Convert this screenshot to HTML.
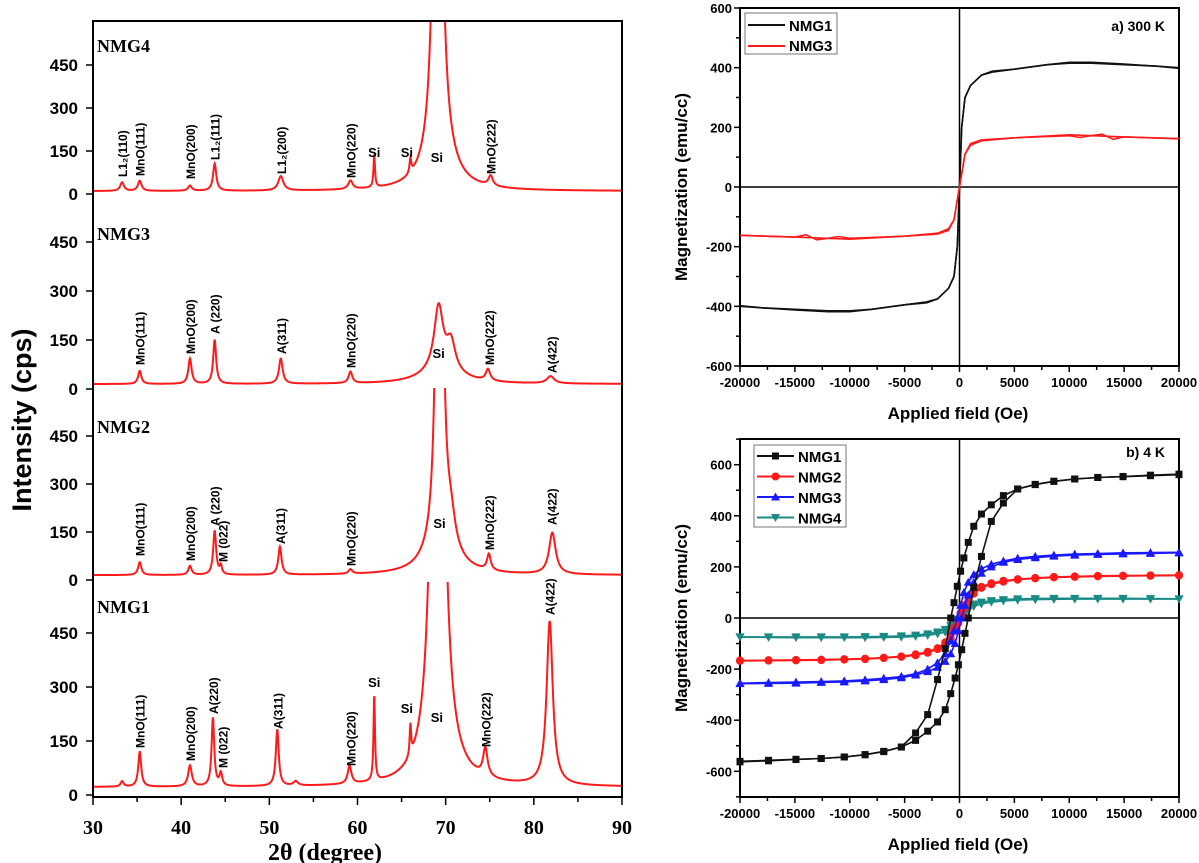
<!DOCTYPE html>
<html><head><meta charset="utf-8"><style>
html,body{margin:0;padding:0;background:#fff;}
svg{display:block;}
text{font-family:"Liberation Sans",Arial,sans-serif;}
.serif{font-family:"Liberation Serif","Times New Roman",serif;}
</style></head><body>
<svg id="fig" width="1199" height="863" viewBox="0 0 1199 863" xmlns="http://www.w3.org/2000/svg"></svg>
<script>
// ---------- XRD data (peak parameters) ----------
const xrdSamples = ["NMG4","NMG3","NMG2","NMG1"];
const xrdBase = [10, 15, 15, 22];
const nmg4Pos = [33.3,35.3,41.0,43.8,51.3,59.2,61.9,66.0,69.1,69.3,75.1];
const nmg4Amp = [30,35,18,95,50,30,115,50,2500,140,35];
const nmg4Wid = [0.25,0.25,0.25,0.22,0.35,0.3,0.1,0.12,0.4,1.6,0.3];
const nmg3Pos = [35.3,41.0,43.8,51.3,59.2,69.2,70.6,69.5,74.8,81.9];
const nmg3Amp = [40,78,135,77,35,190,85,45,35,22];
const nmg3Wid = [0.22,0.22,0.2,0.25,0.25,0.6,0.6,2.5,0.3,0.5];
const nmg2Pos = [35.3,41.0,43.8,44.5,51.2,59.2,69.3,70.6,69.5,74.9,82.1];
const nmg2Amp = [40,28,138,25,88,14,2500,80,90,50,130];
const nmg2Wid = [0.22,0.22,0.2,0.15,0.22,0.25,0.3,0.6,1.8,0.25,0.45];
const nmg1Pos = [33.3,35.3,41.0,43.6,44.5,50.9,53.0,59.1,61.9,66.0,69.1,69.3,74.5,81.8];
const nmg1Amp = [15,97,58,190,35,156,12,50,240,85,3000,100,78,455];
const nmg1Wid = [0.2,0.2,0.25,0.18,0.18,0.2,0.3,0.25,0.1,0.1,0.5,1.5,0.3,0.42];
const xrdTicks = [0,150,300,450];
const xrdXTicks = [30,40,50,60,70,80,90];

// ---------- Magnetic data: upper branch (lower branch = point reflection) ----------
const m300H1 = [20000,18000,15000,12000,10000,8000,5000,3000,2000,1000,500,200,0,-200,-500,-1000,-2000,-3000,-5000,-8000,-10000,-12000,-15000,-18000,-20000];
const m300M1 = [398,405,412,418,418,410,395,388,375,340,300,200,0,-200,-300,-340,-375,-385,-395,-410,-415,-415,-410,-405,-400];
const m300H3 = [20000,15000,10000,5000,2000,1000,500,0,-500,-1000,-2000,-5000,-10000,-11000,-12000,-13000,-14000,-15000,-20000];
const m300M3 = [162,168,175,165,158,145,110,0,-110,-140,-155,-165,-172,-166,-172,-177,-160,-168,-162];
const m4H = [20000,17400,14900,12600,10500,8600,6900,5300,4000,2900,2000,1300,800,400,100,-200,-500,-800,-1300,-2000,-2900,-4000,-5300,-6900,-8600,-10500,-12600,-14900,-17400,-20000];
const m4M1 = [561,557,553,550,544,535,522,505,479,443,407,359,296,235,183,124,60,0,-120,-241,-378,-450,-505,-523,-535,-544,-550,-554,-559,-563];
const m4M2 = [168,167,166,165,163,161,157,152,146,136,122,104,80,50,20,-10,-40,-65,-95,-118,-132,-142,-150,-155,-159,-161,-163,-164,-165,-166];
const m4M3 = [257,256,255,252,250,246,241,234,223,210,193,170,140,100,50,0,-50,-90,-140,-175,-200,-218,-229,-236,-242,-246,-249,-251,-253,-255];
const m4M4 = [75,76,77,77,77,77,76,75,72,68,62,55,42,25,10,-5,-18,-30,-45,-55,-62,-67,-70,-72,-73,-74,-74,-74,-74,-74];
const magXTicks = [-20000,-15000,-10000,-5000,0,5000,10000,15000,20000];
const magYTicksTop = [-600,-400,-200,0,200,400,600];
const magYTicksBot = [-600,-400,-200,0,200,400,600];

const NS="http://www.w3.org/2000/svg";
const svg=document.getElementById('fig');
function mk(tag,attrs,parent){const e=document.createElementNS(NS,tag);for(const k in attrs)e.setAttribute(k,attrs[k]);(parent||svg).appendChild(e);return e;}
function txt(s,attrs,parent){const e=mk('text',attrs,parent);e.textContent=s;return e;}

// ================= XRD PANEL =================
const XL=93, XR=622, XT=21, XB=797;
const xX = d => XL + (d-30)*(XR-XL)/60;
const zeroY=[194,389,580,795];
const pxPer=[43/150,49/150,48/150,54/150];
const clipTop=[21,21,388,582];
const posArr=[nmg4Pos,nmg3Pos,nmg2Pos,nmg1Pos];
const ampArr=[nmg4Amp,nmg3Amp,nmg2Amp,nmg1Amp];
const widArr=[nmg4Wid,nmg3Wid,nmg2Wid,nmg1Wid];
const defs=mk('defs',{});
for(let i=0;i<4;i++){
  const cp=mk('clipPath',{id:'clip'+i},defs);
  mk('rect',{x:XL,y:clipTop[i],width:XR-XL,height:XB-clipTop[i]},cp);
}
for(let i=0;i<4;i++){
  const y=v=>zeroY[i]-v*pxPer[i];
  let d='';
  for(let t=30;t<=90.0001;t+=0.04){
    let v=xrdBase[i];
    for(let k=0;k<posArr[i].length;k++){const g=widArr[i][k];const dd=t-posArr[i][k];v+=ampArr[i][k]*g*g/(dd*dd+g*g);}
    d+=(d?'L':'M')+xX(t).toFixed(2)+','+y(v).toFixed(2);
  }
  const p=mk('path',{d:d,fill:'none',stroke:'#ff1a1a','stroke-width':2,'clip-path':'url(#clip'+i+')'});
  
  
  // y ticks
  xrdTicks.forEach(tv=>{
    mk('line',{x1:XL-7,x2:XL,y1:y(tv),y2:y(tv),stroke:'#000','stroke-width':1.5});
    const tl=txt(String(tv),{x:XL-15,y:y(tv)+6,'text-anchor':'end','font-size':17,'font-weight':'bold'});
    
    
  });
  const nl=txt(xrdSamples[i],{x:97,y:[52,240,433,613][i],'font-size':18,'font-weight':'bold',class:'serif'});
  
  
}
// frame
const xf=mk('path',{d:`M${XL},${XB}V${XT}H${XR}V${XB}H${XL}`,fill:'none',stroke:'#000','stroke-width':2});


for(let t=30;t<=90;t+=5){
  mk('line',{x1:xX(t),x2:xX(t),y1:XB,y2:XB+(t%10===0?8:5),stroke:'#000','stroke-width':1.5});
}
xrdXTicks.forEach(t=>{
  const e=txt(String(t),{x:xX(t),y:834,'text-anchor':'middle','font-size':20,'font-weight':'bold',class:'serif'});
  
  
});
const xt=txt('2θ (degree)',{x:325,y:860,'text-anchor':'middle','font-size':24,'font-weight':'bold',class:'serif'});


const yt=txt('Intensity (cps)',{x:0,y:0,transform:'translate(31,420) rotate(-90)','text-anchor':'middle','font-size':27,'font-weight':'bold'});



// peak annotations: [text, deg, yBottom, rotated]
const ann=[
 ['L1₂(110)',33.3,177,1],['MnO(111)',35.3,176,1],['MnO(200)',41,179,1],['L1₂(111)',43.8,160,1],['L1₂(200)',51.3,174,1],['MnO(220)',59.2,178,1],['MnO(222)',75.1,174,1],
 ['Si',61.9,157,0],['Si',65.6,157,0],['Si',69.0,162,0],
 ['MnO(111)',35.3,365,1],['MnO(200)',41,354,1],['A (220)',43.8,334,1],['A(311)',51.3,354,1],['MnO(220)',59.2,368,1],['MnO(222)',74.9,365,1],['A(422)',82,373,1],['Si',69.2,358,0],
 ['MnO(111)',35.3,556,1],['MnO(200)',41,561,1],['A (220)',43.8,526,1],['M (022)',44.7,562,1],['A(311)',51.2,544,1],['MnO(220)',59.2,566,1],['MnO(222)',74.9,550,1],['A(422)',82,525,1],['Si',69.3,528,0],
 ['MnO(111)',35.3,748,1],['MnO(200)',41,761,1],['A(220)',43.6,714,1],['M (022)',44.7,768,1],['A(311)',50.9,729,1],['MnO(220)',59.2,766,1],['MnO(222)',74.5,747,1],['A(422)',81.8,615,1],
 ['Si',61.9,687,0],['Si',65.6,713,0],['Si',69.0,722,0]
];
ann.forEach(a=>{
  let e;
  if(a[3]) e=txt(a[0],{x:0,y:0,transform:`translate(${xX(a[1])+5},${a[2]}) rotate(-90)`,'font-size':12,'font-weight':'bold'});
  else e=txt(a[0],{x:xX(a[1]),y:a[2],'text-anchor':'middle','font-size':13,'font-weight':'bold'});
  
  
});

// ================= MAGNETIC PANELS =================
const ML=740, MR=1179;
const mX=h=>ML+(h+20000)*(MR-ML)/40000;
function magPanel(top,bottom,zero,ppu,yMin,yMax,yTicks,name){
  const g=mk('g',{});
  
  
  const y=v=>zero-v*ppu;
  for(let h=-20000;h<=20000;h+=2500){
    mk('line',{x1:mX(h),x2:mX(h),y1:bottom,y2:bottom+(h%5000===0?6:4),stroke:'#000','stroke-width':1.5},g);
  }
  magXTicks.forEach(h=>{
    const e=txt(String(h),{x:mX(h),y:bottom+21,'text-anchor':'middle','font-size':13,'font-weight':'bold'},g);
    
    
  });
  for(let v=Math.ceil(yMin/100)*100;v<=yMax;v+=100){
    mk('line',{x1:ML-(v%200===0?6:4),x2:ML,y1:y(v),y2:y(v),stroke:'#000','stroke-width':1.5},g);
  }
  yTicks.forEach(v=>{
    const e=txt(String(v),{x:ML-8,y:y(v)+5,'text-anchor':'end','font-size':13,'font-weight':'bold'},g);
    
    
  });
  mk('line',{x1:ML,x2:MR,y1:y(0),y2:y(0),stroke:'#000','stroke-width':1.5},g);
  mk('line',{x1:mX(0),x2:mX(0),y1:top,y2:bottom,stroke:'#000','stroke-width':1.5},g);
  mk('rect',{x:ML,y:top,width:MR-ML,height:bottom-top,fill:'none',stroke:'#000','stroke-width':2},g);
  const xt=txt('Applied field (Oe)',{x:958,y:bottom+53,'text-anchor':'middle','font-size':17,'font-weight':'bold'},g);
  
  
  const yt=txt('Magnetization (emu/cc)',{x:0,y:0,transform:`translate(687,${(top+bottom)/2}) rotate(-90)`,'text-anchor':'middle','font-size':17,'font-weight':'bold'},g);
  
  
  return {g,y};
}
function marker(shape,cx,cy,col,g){
  if(shape==='sq') return mk('rect',{x:cx-3.5,y:cy-3.5,width:7,height:7,fill:col},g);
  if(shape==='ci') return mk('circle',{cx:cx,cy:cy,r:4,fill:col},g);
  if(shape==='up') return mk('path',{d:`M${cx},${cy-4.5}L${cx+4.5},${cy+3.5}L${cx-4.5},${cy+3.5}Z`,fill:col},g);
  return mk('path',{d:`M${cx},${cy+4.5}L${cx+4.5},${cy-3.5}L${cx-4.5},${cy-3.5}Z`,fill:col},g);
}
function loop(P,H,M,col,shape,name){
  const g=mk('g',{},P.g);
  
  
  const up=H.map((h,i)=>[mX(h),P.y(M[i])]);
  const lo=H.map((h,i)=>[mX(-h),P.y(-M[i])]);
  [up,lo].forEach(pts=>{
    mk('path',{d:'M'+pts.map(p=>p[0].toFixed(1)+','+p[1].toFixed(1)).join('L'),fill:'none',stroke:col,'stroke-width':1.6},g);
    if(shape) pts.forEach(p=>marker(shape,p[0],p[1],col,g));
  });
}
// top panel
const PT=magPanel(8,366,187,179/600,-600,600,magYTicksTop,'hysteresis-300k-panel');
loop(PT,m300H1,m300M1,'#111',null,'loop-300k-nmg1');
loop(PT,m300H3,m300M3,'#ff1a1a',null,'loop-300k-nmg3');
// legend top
const lg1=mk('g',{});


mk('rect',{x:745,y:13,width:92,height:41,fill:'#fff',stroke:'#777','stroke-width':1},lg1);
mk('line',{x1:748,x2:785,y1:25,y2:25,stroke:'#111','stroke-width':2},lg1);
txt('NMG1',{x:789,y:31,'font-size':15,'font-weight':'bold'},lg1);
mk('line',{x1:748,x2:785,y1:46,y2:46,stroke:'#ff1a1a','stroke-width':2},lg1);
txt('NMG3',{x:789,y:51,'font-size':15,'font-weight':'bold'},lg1);
const tA=txt('a) 300 K',{x:1165,y:31,'text-anchor':'end','font-size':14,'font-weight':'bold'});


// bottom panel
const PB=magPanel(439,797,618,153.3/600,-700,700,magYTicksBot,'hysteresis-4k-panel');
loop(PB,m4H,m4M4,'#1a8a85','dn','loop-4k-nmg4');
loop(PB,m4H,m4M2,'#ff1a1a','ci','loop-4k-nmg2');
loop(PB,m4H,m4M3,'#1a1aff','up','loop-4k-nmg3');
loop(PB,m4H,m4M1,'#111','sq','loop-4k-nmg1');
const lg2=mk('g',{});


mk('rect',{x:754,y:445,width:92,height:82,fill:'#fff',stroke:'#777','stroke-width':1},lg2);
[['NMG1','#111','sq'],['NMG2','#ff1a1a','ci'],['NMG3','#1a1aff','up'],['NMG4','#1a8a85','dn']].forEach((L,i)=>{
  const yy=456+i*20.5;
  mk('line',{x1:757,x2:794,y1:yy,y2:yy,stroke:L[1],'stroke-width':2},lg2);
  marker(L[2],775.5,yy,L[1],lg2);
  txt(L[0],{x:798,y:yy+6,'font-size':15,'font-weight':'bold'},lg2);
});
const tB=txt('b) 4 K',{x:1165,y:457,'text-anchor':'end','font-size':14,'font-weight':'bold'});


</script>
</body></html>
